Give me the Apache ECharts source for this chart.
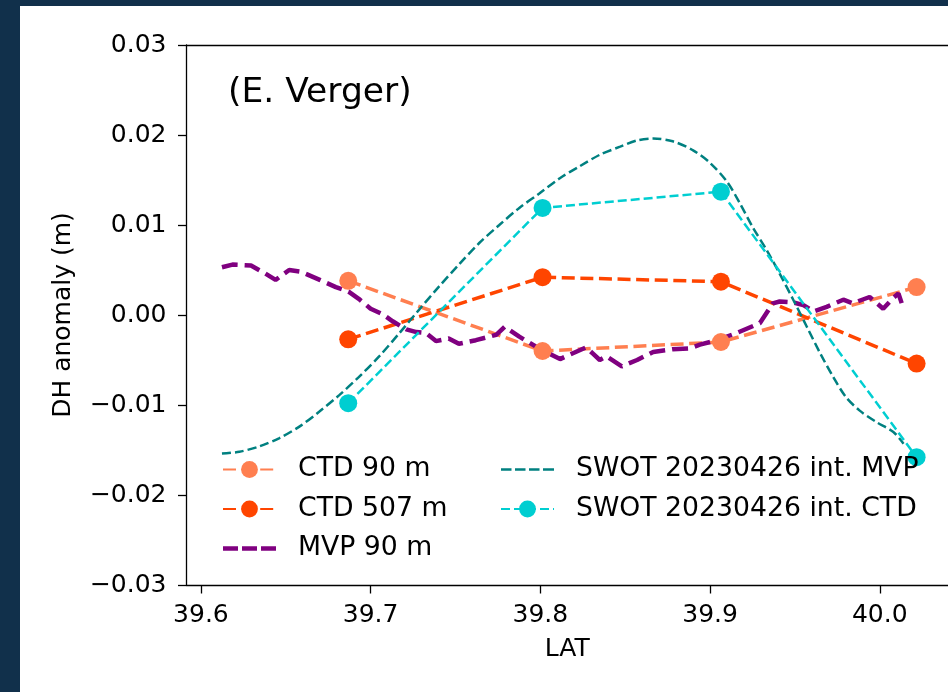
<!DOCTYPE html>
<html>
<head>
<meta charset="utf-8">
<script src="https://cdn.jsdelivr.net/npm/echarts@6/dist/echarts.min.js"></script>
<style>
  html, body { margin: 0; padding: 0; background: #11304b; }
  #panel { position: absolute; left: 20px; top: 6px; width: 928px; height: 686px; background: #fff; }
  #chart { position: absolute; left: 0; top: 0; width: 948px; height: 692px; }
</style>
</head>
<body>
<div id="panel"></div>
<div id="chart"></div>
<script>
// CTD stations (latitude)
const ctdLat = [39.6868, 39.8013, 39.9064, 40.0217];
const ctd90 = [0.0038, -0.0040, -0.0030, 0.0031];
const ctd507 = [-0.0027, 0.0042, 0.0037, -0.0054];
const swotCtd = [-0.0098, 0.0119, 0.0137, -0.0158];

// MVP profile along track
const mvpLat = [39.6124, 39.6186, 39.6295, 39.638, 39.644, 39.652, 39.659, 39.670, 39.6795, 39.687,
  39.693, 39.700, 39.707, 39.713, 39.721, 39.727, 39.7326, 39.7385, 39.746, 39.752,
  39.762, 39.774, 39.779, 39.7876, 39.799, 39.8116, 39.8174, 39.827, 39.831, 39.835,
  39.839, 39.848, 39.857, 39.8665, 39.878, 39.888, 39.894, 39.904, 39.9157, 39.9294,
  39.937, 39.941, 39.949, 39.955, 39.961, 39.9687, 39.9785, 39.984, 39.994, 40.002,
  40.008, 40.011, 40.014];
const mvp90 = [0.0053, 0.0056, 0.0055, 0.0046, 0.0039, 0.0050, 0.0048, 0.0039, 0.0031, 0.0026,
  0.0018, 0.0007, 0.0001, -0.0007, -0.0016, -0.0019, -0.0020, -0.0029, -0.0026, -0.0032,
  -0.0028, -0.0022, -0.0013, -0.0024, -0.0037, -0.0049, -0.0044, -0.0036, -0.0043, -0.0050,
  -0.0046, -0.0057, -0.0050, -0.0041, -0.0038, -0.0037, -0.0033, -0.0028, -0.0020, -0.0009,
  0.0013, 0.0015, 0.0014, 0.0011, 0.0004, 0.0009, 0.0017, 0.0013, 0.0020, 0.0007,
  0.0019, 0.0024, 0.0007];

// SWOT interpolated on MVP track
const swotMvpLat = [39.6124, 39.6226, 39.6344, 39.646, 39.658, 39.670, 39.6815, 39.693, 39.705, 39.717,
  39.7286, 39.740, 39.752, 39.764, 39.7758, 39.7876, 39.7994, 39.8115, 39.823, 39.835,
  39.847, 39.857, 39.8665, 39.878, 39.890, 39.900, 39.910, 39.9176, 39.925, 39.9334,
  39.941, 39.949, 39.957, 39.965, 39.9726, 39.980, 39.988, 39.998, 40.008, 40.014];
const swotMvp = [-0.0154, -0.0152, -0.0146, -0.0137, -0.0124, -0.0107, -0.0089, -0.0069, -0.0046, -0.0020,
  0.0006, 0.0031, 0.0056, 0.0080, 0.0100, 0.0119, 0.0135, 0.0152, 0.0165, 0.0178,
  0.0187, 0.0194, 0.0196, 0.0193, 0.0183, 0.0169, 0.0148, 0.0124, 0.0098, 0.0072,
  0.0046, 0.0017, -0.0013, -0.0043, -0.0069, -0.0091, -0.0106, -0.0119, -0.0130, -0.0143];

const xTicks = [39.6, 39.7, 39.8, 39.9, 40.0];
const yTicks = [-0.03, -0.02, -0.01, 0, 0.01, 0.02, 0.03];

const FONT = 'DejaVu Sans';
const zip = (xs, ys) => xs.map((x, i) => [x, ys[i]]);

// dashed legend samples for the lines without markers
const thickDash = 'path://M0,0h15v4.5h-15z M19,0h15v4.5h-15z M38,0h15v4.5h-15z';
const thinDash = 'path://M0,0h10.5v2.5h-10.5z M14,0h10.5v2.5h-10.5z M28,0h10.5v2.5h-10.5z M42,0h11v2.5h-11z';

const chart = echarts.init(document.getElementById('chart'), null, { renderer: 'canvas' });

const legendBase = {
  orient: 'vertical',
  top: 456,
  padding: 0,
  itemWidth: 53,
  itemHeight: 21,
  itemGap: 12.5,
  selectedMode: false,
  textStyle: { fontFamily: FONT, fontSize: 26.7, color: '#000', lineHeight: 26, padding: [0, 0, 0, 17] }
};

const axisLineStyle = { color: '#000', width: 1.3 };

chart.setOption({
  animation: false,
  backgroundColor: 'transparent',
  textStyle: { fontFamily: FONT },
  title: {
    text: '(E. Verger)',
    left: 228, top: 76, padding: 0,
    textStyle: { fontFamily: FONT, fontSize: 34.5, fontWeight: 'normal', color: '#000' }
  },
  legend: [
    Object.assign({}, legendBase, {
      left: 222,
      data: ['CTD 90 m', 'CTD 507 m', { name: 'MVP 90 m', icon: thickDash }]
    }),
    Object.assign({}, legendBase, {
      left: 500,
      data: [{ name: 'SWOT 20230426 int. MVP', icon: thinDash }, 'SWOT 20230426 int. CTD']
    })
  ],
  grid: { left: 186.5, top: 45, bottom: 107, right: 0, show: false },
  xAxis: [
    {
      type: 'value',
      min: 39.5915, max: 40.0402,
      name: 'LAT', nameLocation: 'middle', nameGap: 52,
      nameTextStyle: { fontFamily: FONT, fontSize: 25, color: '#000' },
      axisLine: { show: true, onZero: false, lineStyle: axisLineStyle },
      axisTick: { show: true, length: 8.5, lineStyle: axisLineStyle, customValues: xTicks },
      axisLabel: {
        fontFamily: FONT, fontSize: 25, color: '#000', margin: 18,
        customValues: xTicks, formatter: v => v.toFixed(1)
      },
      splitLine: { show: false }
    },
    {
      type: 'value', position: 'top',
      min: 39.5915, max: 40.0402,
      axisLine: { show: true, onZero: false, lineStyle: axisLineStyle },
      axisTick: { show: false },
      axisLabel: { show: false },
      splitLine: { show: false }
    }
  ],
  yAxis: {
    type: 'value',
    min: -0.03, max: 0.03,
    name: 'DH anomaly (m)', nameLocation: 'middle', nameGap: 111,
    nameTextStyle: { fontFamily: FONT, fontSize: 25, color: '#000' },
    axisLine: { show: true, onZero: false, lineStyle: axisLineStyle },
    axisTick: { show: true, length: 8.5, lineStyle: axisLineStyle, customValues: yTicks },
    axisLabel: {
      fontFamily: FONT, fontSize: 25, color: '#000', margin: 20,
      customValues: yTicks,
      formatter: v => Math.abs(v) < 1e-9 ? '0.00' : (v < 0 ? '\u2212' : '') + Math.abs(v).toFixed(2)
    },
    splitLine: { show: false }
  },
  series: [
    {
      name: 'CTD 90 m', type: 'line', data: zip(ctdLat, ctd90),
      symbol: 'circle', symbolSize: 18,
      itemStyle: { color: '#FF7F50', borderWidth: 0 },
      lineStyle: { color: '#FF7F50', width: 3.5, type: [13, 5.6] }
    },
    {
      name: 'CTD 507 m', type: 'line', data: zip(ctdLat, ctd507),
      symbol: 'circle', symbolSize: 18,
      itemStyle: { color: '#FF4500', borderWidth: 0 },
      lineStyle: { color: '#FF4500', width: 3.5, type: [13, 5.6] }
    },
    {
      name: 'MVP 90 m', type: 'line', data: zip(mvpLat, mvp90),
      symbol: 'none',
      itemStyle: { color: '#800080' },
      lineStyle: { color: '#800080', width: 4.5, type: [16, 7] }
    },
    {
      name: 'SWOT 20230426 int. MVP', type: 'line', data: zip(swotMvpLat, swotMvp),
      symbol: 'none', smooth: 0.3,
      itemStyle: { color: '#008080' },
      lineStyle: { color: '#008080', width: 2.5, type: [9, 4] }
    },
    {
      name: 'SWOT 20230426 int. CTD', type: 'line', data: zip(ctdLat, swotCtd),
      symbol: 'circle', symbolSize: 18,
      itemStyle: { color: '#00CED1', borderWidth: 0 },
      lineStyle: { color: '#00CED1', width: 2.5, type: [9, 4] }
    }
  ]
});
</script>
</body>
</html>
